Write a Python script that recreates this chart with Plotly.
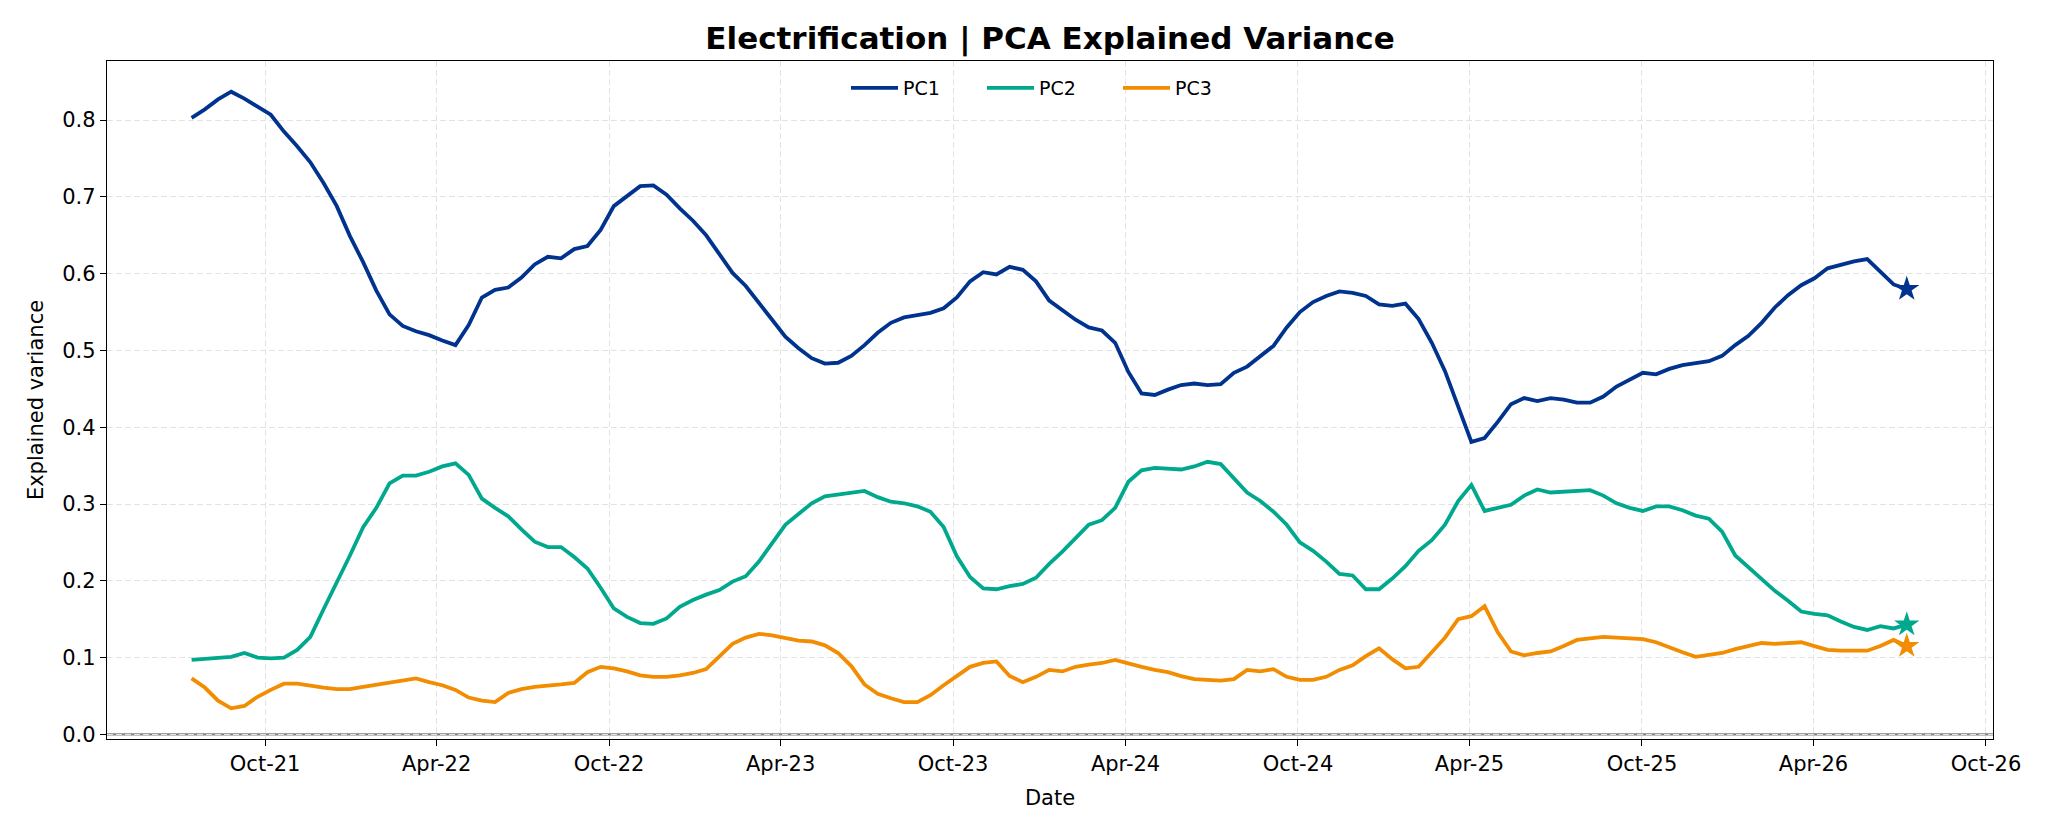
import pandas as pd
import plotly.graph_objects as go

# Sampling dates (every 14 days from mid-July 2021 to early July 2026)
dates = pd.date_range("2021-07-15", periods=131, freq="14D")

pc1 = [0.803, 0.814, 0.827, 0.837, 0.828, 0.818, 0.807, 0.785, 0.766, 0.745,
       0.718, 0.688, 0.649, 0.615, 0.578, 0.547, 0.532, 0.525, 0.520, 0.513,
       0.507, 0.533, 0.569, 0.579, 0.582, 0.595, 0.612, 0.622, 0.620, 0.632,
       0.636, 0.657, 0.688, 0.701, 0.714, 0.715, 0.703, 0.685, 0.669, 0.650,
       0.625, 0.601, 0.584, 0.561, 0.540, 0.518, 0.503, 0.490, 0.483, 0.484,
       0.493, 0.507, 0.523, 0.536, 0.543, 0.546, 0.549, 0.555, 0.569, 0.590,
       0.602, 0.599, 0.609, 0.605, 0.590, 0.565, 0.553, 0.540, 0.530, 0.526,
       0.510, 0.472, 0.444, 0.442, 0.449, 0.455, 0.457, 0.455, 0.456, 0.471,
       0.479, 0.493, 0.506, 0.530, 0.550, 0.563, 0.571, 0.577, 0.575, 0.571,
       0.560, 0.558, 0.561, 0.541, 0.510, 0.473, 0.428, 0.381, 0.386, 0.407,
       0.430, 0.438, 0.434, 0.438, 0.436, 0.432, 0.432, 0.440, 0.453, 0.462,
       0.471, 0.469, 0.476, 0.481, 0.483, 0.486, 0.493, 0.507, 0.519, 0.536,
       0.556, 0.572, 0.585, 0.594, 0.607, 0.612, 0.616, 0.619, 0.603, 0.586,
       0.580]

pc2 = [0.097, 0.098, 0.099, 0.101, 0.106, 0.100, 0.099, 0.100, 0.110, 0.127,
       0.163, 0.197, 0.233, 0.270, 0.295, 0.327, 0.337, 0.337, 0.342, 0.349,
       0.353, 0.338, 0.307, 0.295, 0.284, 0.267, 0.251, 0.244, 0.244, 0.231,
       0.216, 0.191, 0.164, 0.153, 0.145, 0.144, 0.151, 0.166, 0.175, 0.182,
       0.188, 0.199, 0.206, 0.225, 0.250, 0.273, 0.287, 0.301, 0.310, 0.312,
       0.315, 0.317, 0.309, 0.303, 0.301, 0.297, 0.290, 0.270, 0.232, 0.205,
       0.190, 0.189, 0.193, 0.196, 0.204, 0.222, 0.238, 0.256, 0.273, 0.279,
       0.295, 0.329, 0.344, 0.347, 0.346, 0.345, 0.349, 0.355, 0.352, 0.334,
       0.315, 0.304, 0.290, 0.273, 0.250, 0.239, 0.225, 0.209, 0.207, 0.189,
       0.189, 0.203, 0.219, 0.239, 0.253, 0.273, 0.304, 0.325, 0.291, 0.295,
       0.299, 0.311, 0.319, 0.315, 0.316, 0.316, 0.318, 0.311, 0.301, 0.295,
       0.291, 0.297, 0.297, 0.292, 0.285, 0.281, 0.264, 0.233, 0.218, 0.202,
       0.187, 0.174, 0.160, 0.157, 0.155, 0.147, 0.140, 0.136, 0.141, 0.138,
       0.143]

pc3 = [0.073, 0.061, 0.044, 0.034, 0.037, 0.049, 0.058, 0.066, 0.066, 0.063,
       0.061, 0.059, 0.059, 0.062, 0.065, 0.068, 0.071, 0.073, 0.068, 0.064,
       0.058, 0.048, 0.044, 0.042, 0.054, 0.059, 0.062, 0.063, 0.065, 0.067,
       0.081, 0.088, 0.086, 0.082, 0.077, 0.075, 0.075, 0.077, 0.080, 0.085,
       0.101, 0.118, 0.126, 0.131, 0.129, 0.126, 0.122, 0.121, 0.116, 0.106,
       0.089, 0.065, 0.053, 0.047, 0.042, 0.042, 0.051, 0.064, 0.076, 0.088,
       0.093, 0.095, 0.076, 0.068, 0.075, 0.084, 0.082, 0.088, 0.091, 0.093,
       0.097, 0.092, 0.088, 0.084, 0.081, 0.076, 0.072, 0.071, 0.070, 0.072,
       0.084, 0.082, 0.085, 0.075, 0.071, 0.071, 0.075, 0.084, 0.090, 0.102,
       0.112, 0.098, 0.086, 0.088, 0.107, 0.126, 0.150, 0.154, 0.167, 0.133,
       0.108, 0.103, 0.106, 0.108, 0.115, 0.123, 0.125, 0.127, 0.126, 0.125,
       0.124, 0.120, 0.113, 0.107, 0.101, 0.103, 0.106, 0.111, 0.115, 0.119,
       0.118, 0.119, 0.120, 0.115, 0.110, 0.109, 0.109, 0.109, 0.115, 0.123,
       0.115]

series_names = ["PC1", "PC2", "PC3"]
series_colors = ["#00338D", "#00A88E", "#F28C00"]
series_values = [pc1, pc2, pc3]

FONT = "DejaVu Sans"

fig = go.Figure()
for name, color, vals in zip(series_names, series_colors, series_values):
    fig.add_trace(go.Scatter(x=dates, y=vals, mode="lines", name=name,
                             line=dict(color=color, width=3.8)))
for name, color, vals in zip(series_names, series_colors, series_values):
    fig.add_trace(go.Scatter(x=[dates[-1]], y=[vals[-1]], mode="markers",
                             showlegend=False, hoverinfo="skip",
                             marker=dict(symbol="star", size=19, color=color,
                                         line=dict(width=0))))

fig.add_shape(type="line", xref="paper", x0=0, x1=1, yref="y", y0=0, y1=0,
              line=dict(color="#808080", width=2.2), layer="between")

fig.update_layout(
    width=2048, height=832,
    margin=dict(l=107, r=55, t=61, b=93),
    paper_bgcolor="white", plot_bgcolor="white",
    font=dict(family=FONT, color="black", size=21),
    title=dict(text="<b>Electrification | PCA Explained Variance</b>",
               font=dict(family=FONT, size=31, color="black"),
               x=0.5, xref="paper", xanchor="center",
               y=1 - 38 / 832, yref="container", yanchor="middle"),
    legend=dict(orientation="h", x=0.5, xanchor="center", xref="paper",
                y=0.96, yanchor="middle", yref="paper",
                bgcolor="rgba(0,0,0,0)", font=dict(family=FONT, size=19),
                itemwidth=47, entrywidth=74, entrywidthmode="pixels"),
    showlegend=True,
)

fig.update_xaxes(
    range=["2021-04-16 05:00", "2026-10-08 12:00"],
    tick0="2021-10-01", dtick="M6", tickformat="%b-%y",
    ticks="outside", ticklen=6, tickwidth=1.4, tickcolor="black",
    tickfont=dict(family=FONT, size=21),
    showline=True, linecolor="black", linewidth=1.4, mirror=True,
    showgrid=True, gridcolor="#e3e3e3", gridwidth=1.3, griddash="6px,3px",
    zeroline=False,
    title=dict(text="Date", font=dict(family=FONT, size=21), standoff=14),
)
fig.update_yaxes(
    range=[-0.006, 0.877],
    tick0=0, dtick=0.1, tickformat=".1f",
    ticks="outside", ticklen=6, tickwidth=1.4, tickcolor="black",
    tickfont=dict(family=FONT, size=21),
    showline=True, linecolor="black", linewidth=1.4, mirror=True,
    showgrid=True, gridcolor="#e3e3e3", gridwidth=1.3, griddash="6px,3px",
    zeroline=False,
    title=dict(text="Explained variance", font=dict(family=FONT, size=21), standoff=12),
)

fig.write_html("out.html")
